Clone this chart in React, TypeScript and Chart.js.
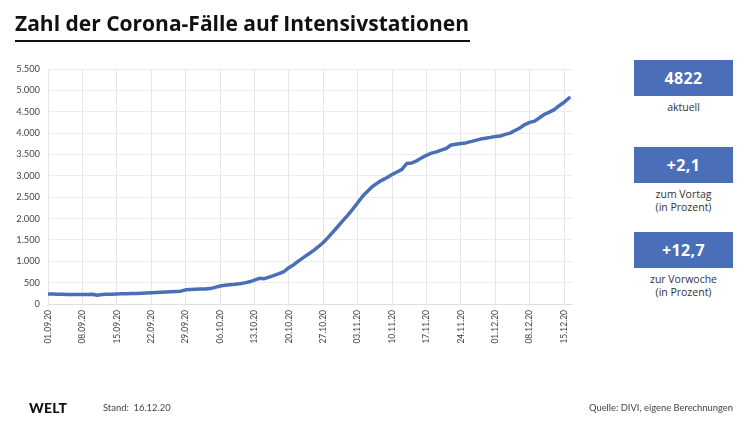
import React, { useEffect, useRef } from "react";
import { Chart, registerables } from "chart.js";

Chart.register(...registerables);

// Daily ICU COVID cases, 01.09.20 .. 16.12.20
const septValues = [236, 232, 228, 226, 225, 224, 222, 221, 224, 229, 205, 222, 228, 230, 235, 238, 240, 243, 246, 250, 255, 262, 270, 276, 281, 286, 292, 300, 332, 340];
const octValues = [345, 350, 352, 360, 390, 420, 440, 452, 460, 472, 495, 520, 560, 600, 592, 630, 670, 712, 760, 850, 920, 1010, 1090, 1170, 1250, 1340, 1440, 1560, 1690, 1820, 1950];
const novValues = [2080, 2220, 2370, 2520, 2640, 2750, 2830, 2900, 2960, 3030, 3090, 3150, 3290, 3300, 3350, 3420, 3480, 3530, 3560, 3600, 3640, 3720, 3740, 3755, 3770, 3800, 3830, 3860, 3880, 3900];
const decValues = [3920, 3930, 3970, 4000, 4060, 4120, 4200, 4250, 4280, 4360, 4440, 4490, 4550, 4640, 4722, 4822];
const values = [...septValues, ...octValues, ...novValues, ...decValues];

const tickLabels = ["01.09.20", "08.09.20", "15.09.20", "22.09.20", "29.09.20", "06.10.20", "13.10.20", "20.10.20", "27.10.20", "03.11.20", "10.11.20", "17.11.20", "24.11.20", "01.12.20", "08.12.20", "15.12.20"];
const tickStepDays = 7;

const yMax = 5500;
const yStep = 500;

const kpis = [
  { value: "4822", label: ["aktuell"] },
  { value: "+2,1", label: ["zum Vortag", "(in Prozent)"] },
  { value: "+12,7", label: ["zur Vorwoche", "(in Prozent)"] },
];

const BLUE = "#4a6fb8";
const FONT = "Lato, 'Open Sans', sans-serif";
const WIDE = "'Open Sans', Lato, sans-serif";

function fmt(v: number) {
  const s = String(Math.round(v));
  return s.replace(/\B(?=(\d{3})+(?!\d))/g, ".");
}

function ChartCanvas() {
  const ref = useRef<HTMLCanvasElement | null>(null);
  useEffect(() => {
    if (!ref.current) return;
    const chart = new Chart(ref.current, {
      type: "line",
      data: {
        datasets: [
          {
            data: values.map((v, i) => ({ x: i, y: v })),
            borderColor: BLUE,
            borderWidth: 3.5,
            pointRadius: 0,
            tension: 0,
            borderCapStyle: "round",
            borderJoinStyle: "round",
          },
        ],
      },
      options: {
        responsive: false,
        animation: false,
        devicePixelRatio: 1,
        layout: { padding: { top: 69, right: 28, bottom: 0, left: 0 } },
        plugins: { legend: { display: false }, tooltip: { enabled: false } },
        scales: {
          x: {
            type: "linear",
            min: 0,
            max: 106.6,
            afterBuildTicks: (s: any) => {
              s.ticks = tickLabels.map((_, i) => ({ value: i * tickStepDays }));
            },
            afterFit: (s: any) => {
              s.height = 119;
            },
            ticks: {
              autoSkip: false,
              maxRotation: 90,
              minRotation: 90,
              padding: 6,
              color: "#444",
              font: { family: FONT, size: 8.5 },
              callback: (v: any) => tickLabels[Math.round(Number(v) / tickStepDays)] ?? "",
            },
            grid: { color: "#e6e6e6", lineWidth: 1, drawTicks: false },
            border: { color: "#e0e0e0" },
          },
          y: {
            min: 0,
            max: yMax,
            afterFit: (s: any) => {
              s.width = 48;
            },
            ticks: {
              stepSize: yStep,
              padding: 8,
              color: "#444",
              font: { family: FONT, size: 9.3 },
              callback: (v: any) => fmt(Number(v)),
            },
            grid: { color: "#ececec", lineWidth: 1, drawTicks: false },
            border: { display: false },
          },
        },
      },
    } as any);
    return () => chart.destroy();
  }, []);
  return <canvas ref={ref} width={600} height={423} style={{ position: "absolute", left: 0, top: 0, width: 600, height: 423 }} />;
}

export default function App() {
  const boxTops = [60, 147, 232];
  return (
    <div style={{ position: "fixed", left: 0, top: 0, width: 750, height: 423, background: "#fff", overflow: "hidden", fontFamily: FONT }}>
      <ChartCanvas />
      <div style={{ position: "absolute", left: 15, top: 11, fontSize: 21, lineHeight: "25px", fontWeight: 700, color: "#111", whiteSpace: "nowrap", fontFamily: WIDE }}>
        Zahl der Corona-Fälle auf Intensivstationen
      </div>
      <div style={{ position: "absolute", left: 15, top: 40, width: 455, height: 2, background: "#111" }} />
      {kpis.map((k, i) => (
        <div key={i}>
          <div style={{ position: "absolute", left: 634, top: boxTops[i], width: 99, height: 36, background: BLUE, color: "#fff", fontWeight: 700, fontSize: 16, lineHeight: "36px", textAlign: "center", fontFamily: WIDE, letterSpacing: 0.4 }}>
            {k.value}
          </div>
          <div style={{ position: "absolute", left: 614, top: boxTops[i] + 41, width: 139, textAlign: "center", fontSize: 10.5, lineHeight: "12.5px", color: "#333", fontFamily: WIDE }}>
            {k.label.map((l, j) => (
              <div key={j}>{l}</div>
            ))}
          </div>
        </div>
      ))}
      <div style={{ position: "absolute", left: 29, top: 400, fontSize: 14, lineHeight: "16px", fontWeight: 900, color: "#111", letterSpacing: 0.2 }}>WELT</div>
      <div style={{ position: "absolute", left: 103, top: 402, fontSize: 9.4, color: "#444" }}>Stand:&nbsp;&nbsp;16.12.20</div>
      <div style={{ position: "absolute", right: 17, top: 402, fontSize: 9.4, color: "#444" }}>Quelle: DIVI, eigene Berechnungen</div>
    </div>
  );
}
